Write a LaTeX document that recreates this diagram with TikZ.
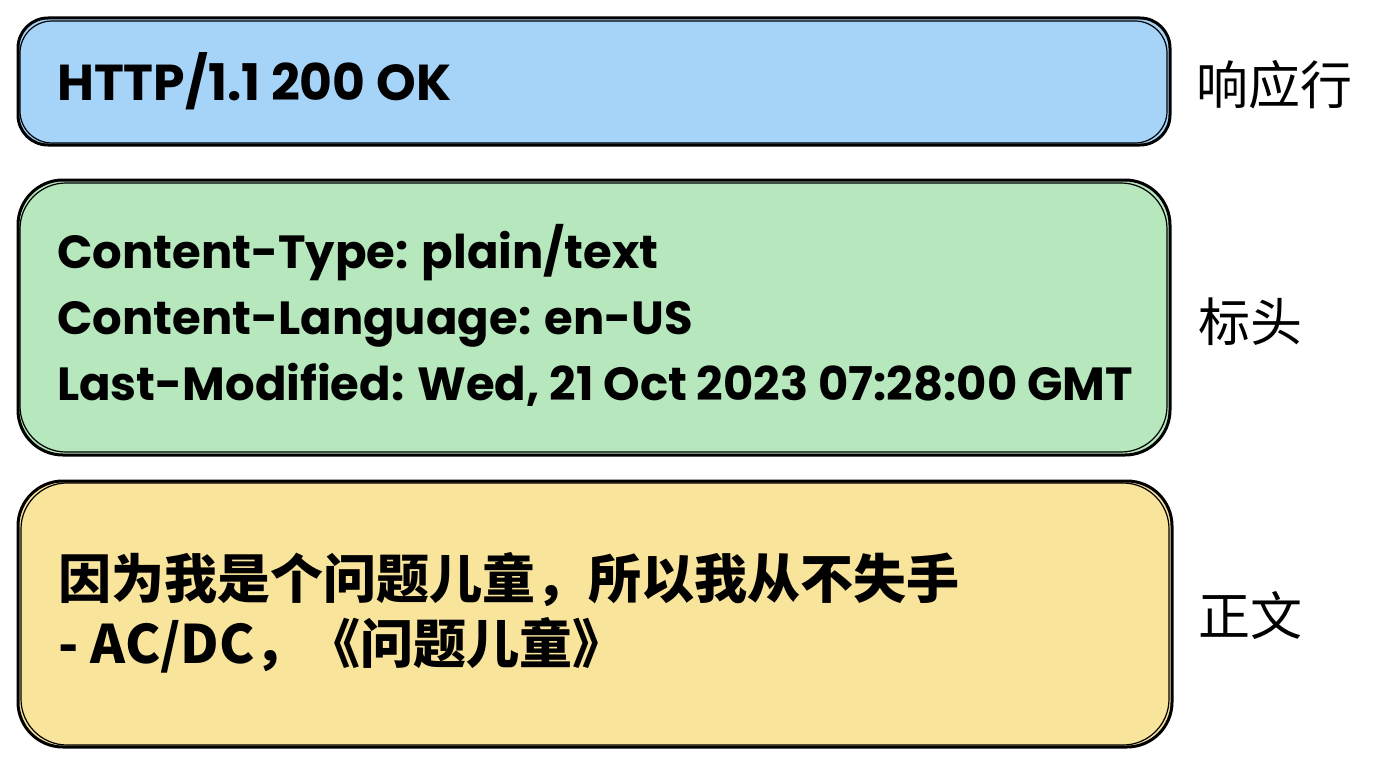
\documentclass[tikz,border=0pt]{standalone}
\usepackage{fontspec}
\setmainfont{Poppins}
\newfontfamily\cjk{Noto Sans CJK SC}
\definecolor{boxblue}{HTML}{A6D4F8}
\definecolor{boxgreen}{HTML}{B6E7BD}
\definecolor{boxyellow}{HTML}{F9E49C}
\tikzset{
  panel/.style={draw=black, line width=3pt, rectangle, inner sep=0pt},
  sketch/.style={draw=black, line width=1.2pt},
  latintxt/.style={anchor=base west, inner sep=0pt, font=\bfseries\fontsize{46.5}{52}\selectfont},
  cjktxt/.style={anchor=west, inner sep=0pt, font=\cjk\bfseries\fontsize{53}{60}\selectfont},
  sidelabel/.style={anchor=west, inner sep=0pt, font=\cjk\fontsize{52}{60}\selectfont}
}
\begin{document}
\begin{tikzpicture}[x=1pt,y=-1pt]
\useasboundingbox[fill=white] (0,0) rectangle (1376,768);
% panels
\node[panel, fill=boxblue, rounded corners=30pt, minimum width=1152pt, minimum height=127pt] (resp) at (594,81.5) {};
\node[panel, fill=boxgreen, rounded corners=45pt, minimum width=1152pt, minimum height=275pt] (head) at (594,317.5) {};
\node[panel, fill=boxyellow, rounded corners=45pt, minimum width=1154pt, minimum height=266pt] (body) at (595,614) {};
% sketchy second strokes
\draw[sketch, rounded corners=32pt] (20,21) rectangle (1167,143);
\draw[sketch, rounded corners=46pt] (20,183) rectangle (1167,452);
\draw[sketch, rounded corners=46pt] (21,483) rectangle (1169,745);
% texts
\node[latintxt, font=\bfseries\fontsize{50.5}{56}\selectfont] (t1) at (57,100) {HTTP/1.1 200 OK};
\node[latintxt] (t2) at (57,268) {Content-Type: plain/text};
\node[latintxt] (t3) at (57,334) {Content-Language: en-US};
\node[latintxt] (t4) at (57,400) {Last-Modified: Wed, 21 Oct 2023 07:28:00 GMT};
\node[cjktxt] (t5) at (58,580) {因为我是个问题儿童，所以我从不失手};
\node[cjktxt] (t6) at (58,645) {- AC/DC，《问题儿童》};
% side labels
\node[sidelabel] (l1) at (1196,85) {响应行};
\node[sidelabel] (l2) at (1198,322) {标头};
\node[sidelabel] (l3) at (1198,615) {正文};
\end{tikzpicture}
\end{document}
